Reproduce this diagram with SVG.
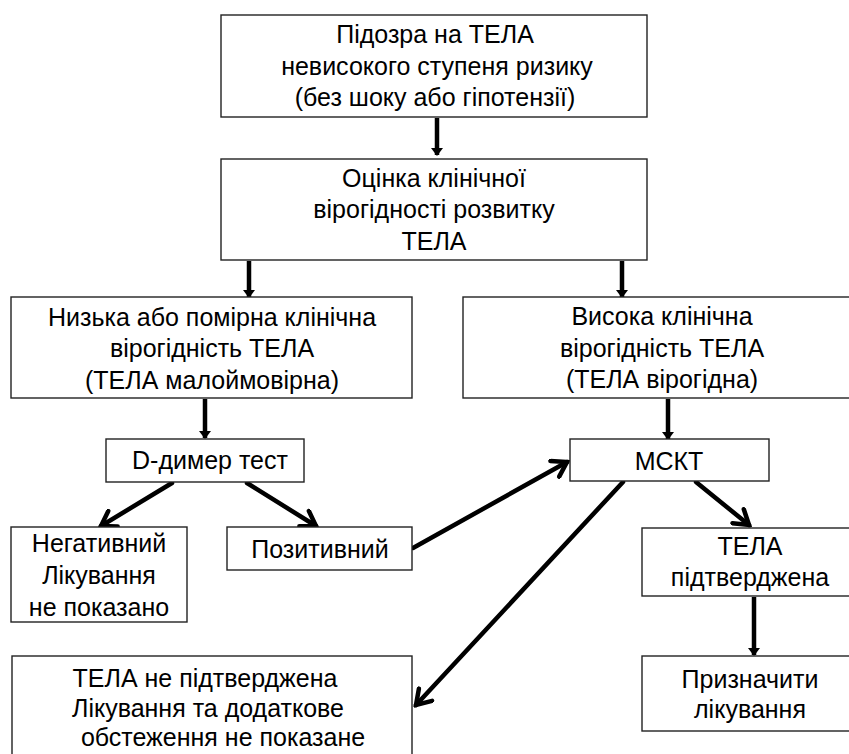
<svg xmlns="http://www.w3.org/2000/svg" width="849" height="754" viewBox="0 0 849 754">
<defs>
<style>
.box{fill:#fff;stroke:#222;stroke-width:1.4}
.t{font-family:"Liberation Sans",Arial,sans-serif;font-size:25px;fill:#000;text-anchor:middle}
.v{stroke:#000;stroke-width:4.5;fill:none}
.d{stroke:#000;stroke-width:4.5;fill:none;stroke-linecap:round}
</style>
<marker id="tri" viewBox="0 0 8 12" refX="7" refY="6" markerWidth="8" markerHeight="12" markerUnits="userSpaceOnUse" orient="auto">
<path d="M0,0 L8,6 L0,12 z" fill="#000"/>
</marker>
<marker id="open" viewBox="0 0 20 22" refX="17" refY="11" markerWidth="20" markerHeight="22" markerUnits="userSpaceOnUse" orient="auto">
<path d="M3,2 L17,11 L3,20" fill="none" stroke="#000" stroke-width="4.5" stroke-linecap="round" stroke-linejoin="miter"/>
</marker>
</defs>
<rect width="849" height="754" fill="#fff"/>

<g id="connectors">
<line class="v" x1="437" y1="118" x2="437" y2="155" marker-end="url(#tri)"/>
<line class="v" x1="249" y1="261" x2="249" y2="297" marker-end="url(#tri)"/>
<line class="v" x1="622" y1="261" x2="622" y2="297" marker-end="url(#tri)"/>
<line class="v" x1="205" y1="399" x2="205" y2="438" marker-end="url(#tri)"/>
<line class="v" x1="668" y1="399" x2="668" y2="439" marker-end="url(#tri)"/>
<line class="v" x1="754" y1="597" x2="754" y2="655" marker-end="url(#tri)"/>
<line class="d" x1="172" y1="483" x2="101" y2="526" marker-end="url(#open)"/>
<line class="d" x1="247" y1="483" x2="316" y2="526" marker-end="url(#open)"/>
<line class="d" x1="413" y1="548" x2="567" y2="462" marker-end="url(#open)"/>
<line class="d" x1="623" y1="482" x2="416" y2="705" marker-end="url(#open)"/>
<line class="d" x1="696" y1="482" x2="749" y2="525" marker-end="url(#open)"/>
</g>

<g id="n1">
<rect class="box" x="221" y="15" width="426" height="102"/>
<text class="t" x="435" y="43">Підозра на ТЕЛА</text>
<text class="t" x="437" y="75">невисокого ступеня ризику</text>
<text class="t" x="435" y="106">(без шоку або гіпотензії)</text>
</g>

<g id="n2">
<rect class="box" x="221" y="159" width="426" height="101"/>
<text class="t" x="434" y="187">Оцінка клінічної</text>
<text class="t" x="434" y="218">вірогідності розвитку</text>
<text class="t" x="434" y="250">ТЕЛА</text>
</g>

<g id="n3">
<rect class="box" x="11" y="297" width="401" height="101"/>
<text class="t" x="212" y="326">Низька або помірна клінічна</text>
<text class="t" x="212" y="357">вірогідність ТЕЛА</text>
<text class="t" x="212" y="389">(ТЕЛА малоймовірна)</text>
</g>

<g id="n4">
<rect class="box" x="463" y="297" width="398" height="101"/>
<text class="t" x="662" y="325">Висока клінічна</text>
<text class="t" x="662" y="357">вірогідність ТЕЛА</text>
<text class="t" x="662" y="388">(ТЕЛА вірогідна)</text>
</g>

<g id="n5">
<rect class="box" x="106" y="439" width="198" height="43"/>
<text class="t" x="210" y="469">D-димер тест</text>
</g>

<g id="n6">
<rect class="box" x="570" y="439" width="199" height="42"/>
<text class="t" x="669" y="470">МСКТ</text>
</g>

<g id="n7">
<rect class="box" x="11" y="527" width="176" height="95"/>
<text class="t" x="99" y="552">Негативний</text>
<text class="t" x="99" y="584">Лікування</text>
<text class="t" x="99" y="616">не показано</text>
</g>

<g id="n8">
<rect class="box" x="227" y="527" width="185" height="43"/>
<text class="t" x="320" y="558">Позитивний</text>
</g>

<g id="n9">
<rect class="box" x="642" y="528" width="216" height="68"/>
<text class="t" x="750" y="555">ТЕЛА</text>
<text class="t" x="750" y="586">підтверджена</text>
</g>

<g id="n10">
<rect class="box" x="642" y="656" width="216" height="75"/>
<text class="t" x="750" y="688">Призначити</text>
<text class="t" x="750" y="718">лікування</text>
</g>

<g id="n11">
<rect class="box" x="12" y="656" width="400" height="110"/>
<text class="t" x="205" y="687">ТЕЛА не підтверджена</text>
<text class="t" x="208" y="717">Лікування та додаткове</text>
<text class="t" x="223" y="746">обстеження не показане</text>
</g>
</svg>
